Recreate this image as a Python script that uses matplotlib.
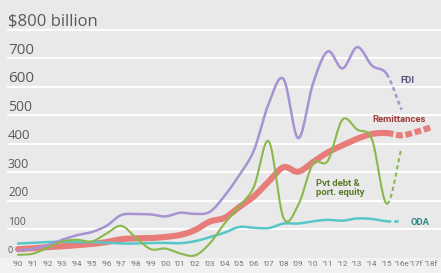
import numpy as np
import matplotlib
matplotlib.use("Agg")
import matplotlib.pyplot as plt
from matplotlib.transforms import blended_transform_factory

# ── data (US$ billion) ───────────────────────────────────────────────────────
years = list(range(1990, 2019))
tick_labels = ["'90", "'91", "'92", "'93", "'94", "'95", "'96", "'97", "'98", "'99",
               "'00", "'01", "'02", "'03", "'04", "'05", "'06", "'07", "'08", "'09",
               "'10", "'11", "'12", "'13", "'14", "'15", "'16e", "'17f", "'18f"]

fdi_years = years[:27]
fdi = [25, 31, 44, 63, 79, 90, 112, 150, 153, 152, 145, 158, 154, 161, 217, 290,
       378, 542, 628, 420, 612, 725, 665, 740, 675, 645, 520]

remit_years = years
remittances = [30, 33, 37, 40, 44, 48, 55, 65, 68, 69, 73, 80, 97, 127, 140, 178,
               216, 268, 318, 302, 336, 370, 395, 418, 435, 438, 430, 442, 458]

pvt_years = years[:27]
pvt_debt = [10, 14, 35, 57, 63, 57, 85, 112, 70, 30, 32, 15, 8, 50, 120, 180,
            250, 409, 140, 185, 330, 340, 485, 450, 415, 190, 385]

oda_years = years[:27]
oda = [50, 52, 55, 56, 55, 55, 53, 50, 50, 52, 52, 51, 58, 72, 88, 108,
       105, 104, 120, 120, 128, 133, 130, 138, 136, 128, 127]

y_ticks = [0, 100, 200, 300, 400, 500, 600, 700, 800]
y_tick_labels = ["0", "100", "200", "300", "400", "500", "600", "700", "$800 billion"]
last_actual = 2015


def smooth(xs, ys, n=16):
    """Catmull-Rom curve through the yearly points (drawing only)."""
    xs = np.asarray(xs, float)
    ys = np.asarray(ys, float)
    py = np.concatenate([[2 * ys[0] - ys[1]], ys, [2 * ys[-1] - ys[-2]]])
    t = np.linspace(0, 1, n, endpoint=False)
    out_x, out_y = [], []
    for i in range(len(xs) - 1):
        p0, p1, p2, p3 = py[i:i + 4]
        seg = 0.5 * ((2 * p1) + (-p0 + p2) * t
                     + (2 * p0 - 5 * p1 + 4 * p2 - p3) * t ** 2
                     + (-p0 + 3 * p1 - 3 * p2 + p3) * t ** 3)
        out_x.append(xs[i] + (xs[i + 1] - xs[i]) * t)
        out_y.append(seg)
    out_x.append([xs[-1]])
    out_y.append([ys[-1]])
    return np.concatenate(out_x), np.concatenate(out_y)


def draw(ax, xs, ys, color, lw, dashes, z):
    sx, sy = smooth(xs, ys)
    solid = sx <= last_actual + 1e-9
    dash = sx >= last_actual - 1e-9
    ax.plot(sx[solid], sy[solid], color=color, lw=lw, solid_capstyle="round",
            solid_joinstyle="round", zorder=z)
    ax.plot(sx[dash], sy[dash], color=color, lw=lw, dashes=dashes,
            dash_capstyle="butt", zorder=z)


# ── figure ───────────────────────────────────────────────────────────────────
W, H = 441, 273
fig = plt.figure(figsize=(W / 100, H / 100), dpi=100, facecolor="#e9e9e9")
ax = fig.add_axes([0, 0, 1, 1])
ax.set_facecolor("#e9e9e9")

# pixel mapping: '90 at x=18 px, 14.75 px per year; 0 at y=257.7 px, 0.2846 px per unit
px_year, x0 = 14.75, 18
ax.set_xlim(1990 - x0 / px_year, 1990 + (W - x0) / px_year)
py_unit, y0 = 0.2846, 257.7
ax.set_ylim((y0 - H) / py_unit, y0 / py_unit)
for s in ax.spines.values():
    s.set_visible(False)
ax.set_xticks([])
ax.set_yticks([])

# lighter strip for the year labels
ax.axhspan(ax.get_ylim()[0], 0, color="#f1f1f1", zorder=0)

trans = blended_transform_factory(ax.transAxes, ax.transData)
label_sizes = [6.5, 7.5, 8.5, 9.0, 9.5, 10, 11, 11, 12]
for v, lab, fs in zip(y_ticks, y_tick_labels, label_sizes):
    if v > 0:
        ax.plot([8 / W, 1], [v, v], transform=trans, color="white", lw=1.4, zorder=1)
    ax.text(8 / W, v + 16, lab, transform=trans, fontsize=fs, color="#5a5a5a",
            family="Open Sans", va="baseline", ha="left", zorder=2)

for yr, lab in zip(years, tick_labels):
    ax.text(yr, -22, lab, fontsize=5.9, color="#757575", family="Roboto",
            ha="center", va="center")

draw(ax, remit_years, remittances, "#e77c7b", 4.4, (1.1, 0.45), 3)
draw(ax, oda_years, oda, "#56c7c6", 1.8, (1.8, 1.2), 4)
draw(ax, fdi_years, fdi, "#a792d2", 1.8, (1.6, 1.3), 5)
draw(ax, pvt_years, pvt_debt, "#8bb84c", 1.5, (2.0, 1.5), 6)

ax.text(2015.9, 624, "FDI", fontsize=6.8, fontweight="bold", color="#55557a",
        family="Roboto", ha="left", va="center")
ax.text(2014.0, 484, "Remittances", fontsize=6.8, fontweight="bold", color="#a33c3c",
        family="Roboto", ha="left", va="center")
ax.text(2010.2, 245, "Pvt debt &\nport. equity", fontsize=6.8, fontweight="bold",
        color="#5b7d2a", family="Roboto", ha="left", va="center", linespacing=1.1)
ax.text(2016.6, 125, "ODA", fontsize=6.8, fontweight="bold", color="#2b8b8b",
        family="Roboto", ha="left", va="center")

fig.savefig("out.png", dpi=100, facecolor=fig.get_facecolor())
